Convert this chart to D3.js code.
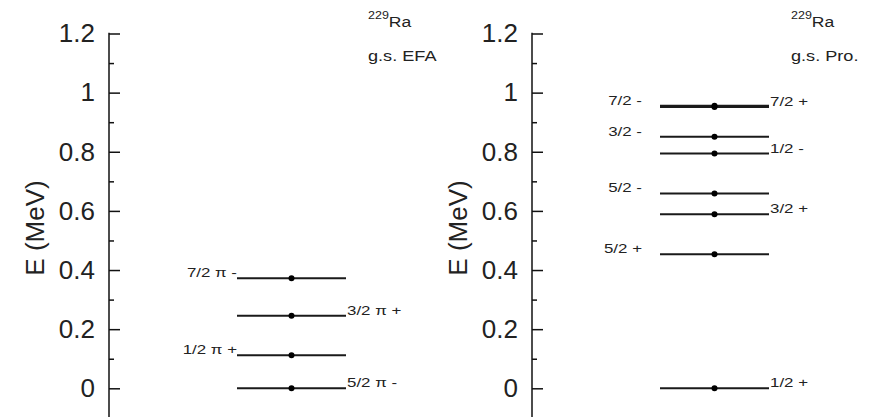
<!DOCTYPE html>
<html>
<head>
<meta charset="utf-8">
<script src="https://cdn.jsdelivr.net/npm/d3@7"></script>
<style>
  html, body { margin: 0; padding: 0; background: #fff; }
  svg { display: block; }
  text { font-family: "Liberation Sans", Arial, Helvetica, sans-serif; fill: #222; }
</style>
</head>
<body>
<svg id="chart" width="870" height="417"></svg>
<script>
// Level energies (MeV) and spin-parity labels for 229Ra
const efaEnergy = [0, 0.112, 0.245, 0.372];
const efaLabel  = ["5/2 π -", "1/2 π +", "3/2 π +", "7/2 π -"];
const efaSide   = ["right", "left", "right", "left"];

const proEnergy = [0, 0.453, 0.589, 0.659, 0.794, 0.851, 0.951, 0.956];
const proLabel  = ["1/2 +", "5/2 +", "3/2 +", "5/2 -", "1/2 -", "3/2 -", "7/2 +", "7/2 -"];
const proSide   = ["right", "left", "right", "left", "right", "left", "right", "left"];

const majorTicks = [0, 0.2, 0.4, 0.6, 0.8, 1.0, 1.2];
const majorTickLabels = ["0", "0.2", "0.4", "0.6", "0.8", "1", "1.2"];
const minorTicks = [-0.1, 0.1, 0.3, 0.5, 0.7, 0.9, 1.1];

const nucleusMass = "229";
const nucleusSymbol = "Ra";
const panelSubtitles = ["g.s. EFA", "g.s. Pro."];
const yAxisTitle = "E (MeV)";

const svg = d3.select("#chart");
const STRETCH = 1.25;   // small annotation text is drawn horizontally widened

const y = d3.scaleLinear().domain([0, 1.2]).range([388.3, 33.5]);

// draw a text element widened horizontally, anchored at its start or end
function wideText(g, x, yPos, str, size, anchor) {
  const t = g.append("text").attr("y", yPos).attr("font-size", size).text(str);
  const w = t.node().getComputedTextLength() * STRETCH;
  t.attr("textLength", w).attr("lengthAdjust", "spacingAndGlyphs")
   .attr("x", anchor === "end" ? x - w : x);
  return t;
}

const panels = [
  { axisX: 109, energy: efaEnergy, label: efaLabel, side: efaSide, subtitle: panelSubtitles[0], leftGap: 0, rightGap: 1 },
  { axisX: 532, energy: proEnergy, label: proLabel, side: proSide, subtitle: panelSubtitles[1], leftGap: 18, rightGap: 1 }
];

panels.forEach(p => {
  const g = svg.append("g");
  const x = d3.scaleLinear().domain([-1, 1]).range([p.axisX + 128, p.axisX + 237]);

  // main axis: ticks point inward, labels outside
  const axis = d3.axisLeft(y)
    .tickValues(majorTicks)
    .tickFormat((d, i) => majorTickLabels[i])
    .tickSizeInner(-11)
    .tickSizeOuter(0)
    .tickPadding(14);
  const ag = g.append("g").attr("transform", `translate(${p.axisX},0)`).call(axis);
  ag.select(".domain").remove();
  ag.selectAll(".tick line").attr("stroke", "#111").attr("stroke-width", 1.5);
  ag.selectAll(".tick text")
    .attr("font-size", 26)
    .attr("font-family", "'Liberation Sans', Arial, sans-serif")
    .attr("fill", "#222");

  // minor ticks
  const minor = d3.axisLeft(y).tickValues(minorTicks).tickFormat("").tickSizeInner(-5).tickSizeOuter(0);
  const mg = g.append("g").attr("transform", `translate(${p.axisX},0)`).call(minor);
  mg.select(".domain").remove();
  mg.selectAll(".tick line").attr("stroke", "#111").attr("stroke-width", 1.5);

  // axis spine running from the top tick down past the frame
  g.append("line")
    .attr("x1", p.axisX).attr("x2", p.axisX)
    .attr("y1", y(1.2) - 0.75).attr("y2", y(-0.12))
    .attr("stroke", "#111").attr("stroke-width", 1.5);

  // axis title
  g.append("text")
    .attr("transform", `translate(${p.axisX - 74},228) rotate(-90)`)
    .attr("text-anchor", "middle")
    .attr("dominant-baseline", "central")
    .attr("font-size", 26)
    .text(yAxisTitle);

  // nucleus and subtitle
  const title = g.append("text").attr("y", 27).attr("font-size", 14);
  title.append("tspan").attr("x", p.axisX + 259).attr("font-size", 10).attr("dy", -8).text(nucleusMass);
  title.append("tspan").attr("font-size", 14).attr("dy", 8).text(nucleusSymbol);
  const tw = title.node().getComputedTextLength() * STRETCH;
  title.attr("textLength", tw).attr("lengthAdjust", "spacingAndGlyphs");
  wideText(g, p.axisX + 259, 61, p.subtitle, 14.5, "start");

  // levels
  const levels = p.energy.map((e, i) => ({ e, label: p.label[i], side: p.side[i] }));
  g.selectAll(".level").data(levels).enter().append("line")
    .attr("class", "level")
    .attr("x1", x(-1)).attr("x2", x(1))
    .attr("y1", d => y(d.e)).attr("y2", d => y(d.e))
    .attr("stroke", "#1a1a1a").attr("stroke-width", 2);
  g.selectAll(".dot").data(levels).enter().append("circle")
    .attr("class", "dot")
    .attr("cx", x(0)).attr("cy", d => y(d.e)).attr("r", 3)
    .attr("fill", "#000");
  levels.forEach(d => {
    if (d.side === "left") wideText(g, x(-1) - p.leftGap, y(d.e) - 1, d.label, 13.5, "end");
    else wideText(g, x(1) + p.rightGap, y(d.e) - 1, d.label, 13.5, "start");
  });
});
</script>
</body>
</html>
